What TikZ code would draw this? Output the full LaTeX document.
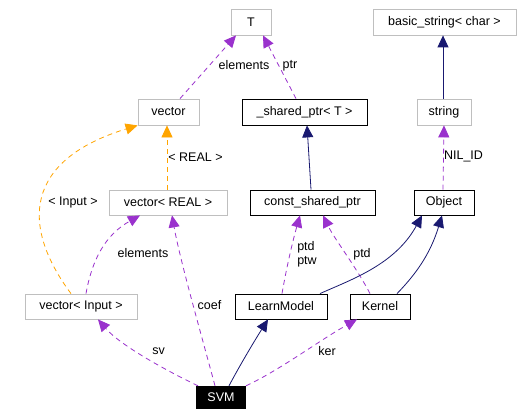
\documentclass[tikz,border=0pt]{standalone}
\usepackage{fontspec}
\setmainfont{Liberation Sans}
\usetikzlibrary{arrows.meta}
\definecolor{edgepurple}{HTML}{9A32CD}
\definecolor{edgeorange}{HTML}{FFA500}
\definecolor{edgenavy}{HTML}{191970}
\definecolor{boxgray}{HTML}{BFBFBF}
\tikzset{
  base/.style={minimum height=26pt, inner sep=0pt, font=\fontsize{12.5}{14}\selectfont},
  graybox/.style={base, draw=boxgray, line width=0.8pt},
  blackbox/.style={base, draw=black, line width=0.8pt},
  svmbox/.style={base, fill=black, text=white, minimum height=23pt},
  tip/.style={-{Triangle[length=12pt,width=11pt]}},
  usesedge/.style={tip, draw=edgepurple, line width=0.8pt, dash pattern=on 5pt off 4pt},
  tmpledge/.style={tip, draw=edgeorange, line width=0.8pt, dash pattern=on 5pt off 4pt},
  inhedge/.style={tip, draw=edgenavy, line width=0.8pt},
  lbl/.style={font=\fontsize{12.5}{14}\selectfont, inner sep=0pt, solid, text=black, align=left}
}
\begin{document}
\begin{tikzpicture}[x=1pt, y=-1pt]
\useasboundingbox[fill=white] (0,0) rectangle (521,417);
% nodes
\node[graybox, minimum width=40pt] (T) at (251,22) {T};
\node[graybox, minimum width=143pt] (bs) at (444.5,22) {basic\_string< char >};
\node[graybox, minimum width=61pt] (vector) at (168.5,112) {vector};
\node[blackbox, minimum width=125pt] (sp) at (304.5,112) {\_shared\_ptr< T >};
\node[graybox, minimum width=54pt] (string) at (444,112) {string};
\node[graybox, minimum width=118pt, minimum height=25pt] (vreal) at (168,202.5) {vector< REAL >};
\node[blackbox, minimum width=125pt, minimum height=25pt] (csp) at (312.5,202.5) {const\_shared\_ptr};
\node[blackbox, minimum width=60pt, minimum height=25pt] (object) at (444,202.5) {Object};
\node[graybox, minimum width=112pt, minimum height=25pt] (vinput) at (81,306.5) {vector< Input >};
\node[blackbox, minimum width=92pt, minimum height=25pt] (lm) at (281,306.5) {LearnModel};
\node[blackbox, minimum width=60pt, minimum height=25pt] (kernel) at (380,306.5) {Kernel};
\node[svmbox, minimum width=50pt] (svm) at (221,397.5) {SVM};
% edges
\draw[usesedge] ([xshift=11.5pt]vector.north) -- ([xshift=-15pt]T.south)
  node[lbl, at={(244,65)}] {elements};
\draw[usesedge] ([xshift=-8.5pt]sp.north) -- ([xshift=12pt]T.south)
  node[lbl, at={(290,66)}] {ptr};
\draw[inhedge] ([xshift=-1pt]string.north) -- ([xshift=-1.5pt]bs.south);
\draw[inhedge] ([xshift=-1.5pt]csp.north) -- ([xshift=2.5pt]sp.south);
\draw[usesedge] ([xshift=-1pt]object.north) -- (string.south)
  node[lbl, at={(463.5,156)}] {NIL\_ID};
\draw[tmpledge] ([xshift=-1pt]vreal.north) -- ([xshift=-1.5pt]vector.south)
  node[lbl, at={(195.5,157)}] {< REAL >};
\draw[tmpledge] ([xshift=-10pt]vinput.north) .. controls (20,225) and (25,160) .. (vector.south west)
  node[lbl, at={(73,202)}] {< Input >};
\draw[usesedge] ([xshift=5pt]vinput.north) .. controls (92,260) and (105,235) .. ([xshift=-28pt]vreal.south)
  node[lbl, at={(143,253)}] {elements};
\draw[usesedge] ([xshift=-23pt]svm.north) .. controls (165,370) and (120,345) .. ([xshift=17pt]vinput.south)
  node[lbl, at={(158.5,351)}] {sv};
\draw[usesedge] ([xshift=-6pt]svm.north) .. controls (200,330) and (180,260) .. ([xshift=4pt]vreal.south)
  node[lbl, at={(209.5,305)}] {coef};
\draw[inhedge] ([xshift=8pt]svm.north) .. controls (240,365) and (255,340) .. ([xshift=-13pt]lm.south);
\draw[usesedge] ([xshift=25pt]svm.north) .. controls (280,370) and (320,340) .. ([xshift=-23pt]kernel.south)
  node[lbl, at={(327,351)}] {ker};
\draw[usesedge] ([xshift=1pt]lm.north) .. controls (287,265) and (293,240) .. ([xshift=-12.5pt]csp.south)
  node[lbl, at={(307,254.5)}] {ptd\\ptw};
\draw[usesedge] ([xshift=-10pt]kernel.north) .. controls (355,265) and (335,240) .. ([xshift=10.5pt]csp.south)
  node[lbl, at={(362,254)}] {ptd};
\draw[inhedge] ([xshift=39pt]lm.north) .. controls (350,280) and (395,265) .. ([xshift=-22pt]object.south);
\draw[inhedge] ([xshift=17pt]kernel.north) .. controls (415,275) and (430,255) .. ([xshift=-2pt]object.south);
\end{tikzpicture}
\end{document}
